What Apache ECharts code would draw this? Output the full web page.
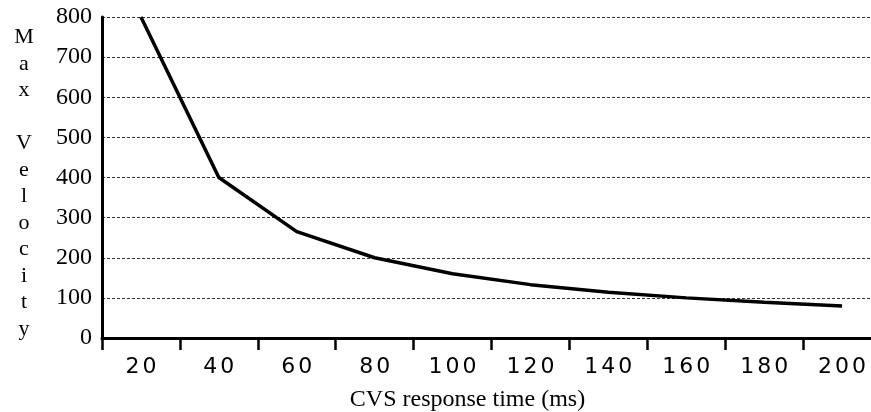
<!DOCTYPE html>
<html>
<head>
<meta charset="utf-8">
<script src="https://cdn.jsdelivr.net/npm/echarts@6/dist/echarts.min.js"></script>
<style>html,body{margin:0;padding:0;background:#fff}#c{width:871px;height:412px}</style>
</head>
<body>
<div id="c"></div>
<script>
var categories = ['20','40','60','80','100','120','140','160','180','200'];
var maxVelocity = [800, 400, 265, 200, 160, 133, 114, 100, 89, 80];
var yTicks = {min: 0, max: 800, interval: 100};
var xTitle = 'CVS response time (ms)';
var yTitle = 'M\na\nx\n\nV\ne\nl\no\nc\ni\nt\ny';

var chart = echarts.init(document.getElementById('c'));
chart.setOption({
  animation: false,
  backgroundColor: '#fff',
  title: {
    text: yTitle,
    left: 24, top: 24, padding: 0,
    textAlign: 'center',
    textStyle: {fontFamily: 'Liberation Serif', fontSize: 22, fontWeight: 'normal', color: '#000', lineHeight: 26.5}
  },
  grid: {left: 102, top: 17, bottom: 74, right: -10, containLabel: false, outerBoundsMode: 'none'},
  xAxis: {
    type: 'category',
    data: categories,
    boundaryGap: true,
    name: xTitle,
    nameLocation: 'middle',
    nameGap: 50,
    nameTextStyle: {fontFamily: 'Liberation Serif', fontSize: 24, color: '#000', padding: [0, 48, 0, 0]},
    axisLine: {lineStyle: {color: '#000', width: 3}},
    axisTick: {show: true, alignWithLabel: false, length: 12, lineStyle: {color: '#000', width: 2.5}},
    axisLabel: {
      margin: 18,
      color: '#000',
      interval: 0,
      formatter: function (v) { return v.split('').map(function (d) { return '{d|' + d + '}'; }).join(''); },
      rich: {d: {fontFamily: 'DejaVu Sans', fontSize: 22, color: '#000', padding: [0, 1.5, 0, 1.5]}}
    },
    splitLine: {show: false}
  },
  yAxis: {
    type: 'value',
    min: yTicks.min, max: yTicks.max, interval: yTicks.interval,
    axisLine: {show: true, lineStyle: {color: '#000', width: 3}},
    axisTick: {show: false},
    axisLabel: {margin: 10, color: '#000', fontFamily: 'Liberation Serif', fontSize: 24},
    splitLine: {show: true, lineStyle: {color: '#333', width: 1, type: [3, 2]}}
  },
  series: [{
    type: 'line',
    data: maxVelocity,
    showSymbol: false,
    symbol: 'none',
    smooth: false,
    lineStyle: {color: '#000', width: 3.5},
    clip: false
  }]
});
</script>
</body>
</html>
